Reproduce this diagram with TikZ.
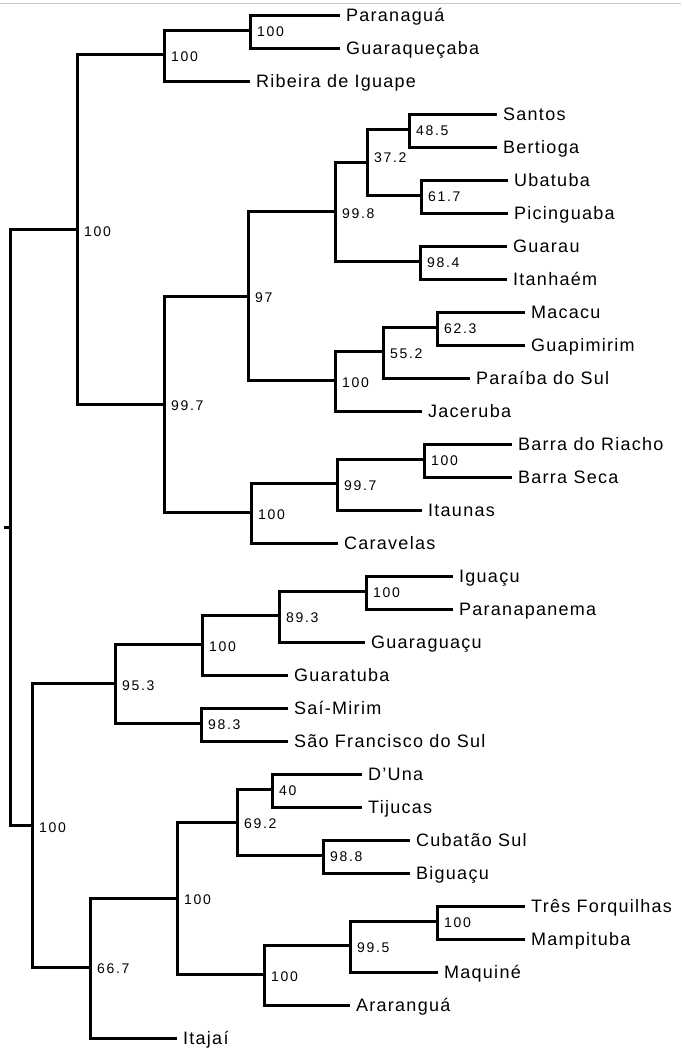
\documentclass[tikz,border=0pt]{standalone}
\usepackage{fontspec}
\setmainfont{Liberation Sans}
\newfontfamily\leaffont[LetterSpace=7]{Liberation Sans}
\newfontfamily\bsfont[LetterSpace=12]{Liberation Sans}
\definecolor{frameg}{RGB}{200,200,200}
\tikzset{
  branch/.style={line width=3pt, line join=miter, line cap=butt},
  leaf/.style={anchor=west, inner xsep=6pt, inner ysep=0pt, text height=12.9pt, text depth=0pt,
    font=\leaffont\fontsize{18}{20}\selectfont, yshift=-1.8pt},
  bs/.style={anchor=west, inner sep=0pt, text height=10pt, text depth=0pt,
    font=\bsfont\fontsize{14}{16}\selectfont, xshift=7pt, yshift=-1.5pt}
}
\begin{document}
\begin{tikzpicture}[x=1pt,y=-1pt]
\useasboundingbox (0,0) rectangle (681,1050);
\draw[frameg, line width=1.3pt] (0,3.3) -- (681,3.3);

% leaves
\node[leaf] (l0)  at (340,13.5)   {Paranaguá};
\node[leaf] (l1)  at (340,46.5)   {Guaraqueçaba};
\node[leaf] (l2)  at (250,79.5)   {Ribeira de Iguape};
\node[leaf] (l3)  at (497,112.5)  {Santos};
\node[leaf] (l4)  at (497,145.5)  {Bertioga};
\node[leaf] (l5)  at (508,178.5)  {Ubatuba};
\node[leaf] (l6)  at (508,211.5)  {Picinguaba};
\node[leaf] (l7)  at (507,244.5)  {Guarau};
\node[leaf] (l8)  at (507,277.5)  {Itanhaém};
\node[leaf] (l9)  at (525,310.5)  {Macacu};
\node[leaf] (l10) at (525,343.5)  {Guapimirim};
\node[leaf] (l11) at (470,376.5)  {Paraíba do Sul};
\node[leaf] (l12) at (422,409.5)  {Jaceruba};
\node[leaf] (l13) at (512,442.5)  {Barra do Riacho};
\node[leaf] (l14) at (512,475.5)  {Barra Seca};
\node[leaf] (l15) at (422,508.5)  {Itaunas};
\node[leaf] (l16) at (338,541.5)  {Caravelas};
\node[leaf] (l17) at (453,574.5)  {Iguaçu};
\node[leaf] (l18) at (453,607.5)  {Paranapanema};
\node[leaf] (l19) at (365,640.5)  {Guaraguaçu};
\node[leaf] (l20) at (288,673.5)  {Guaratuba};
\node[leaf] (l21) at (288,706.5)  {Saí-Mirim};
\node[leaf] (l22) at (288,739.5)  {São Francisco do Sul};
\node[leaf] (l23) at (362,772.5)  {D’Una};
\node[leaf] (l24) at (362,805.5)  {Tijucas};
\node[leaf] (l25) at (410,838.5)  {Cubatão Sul};
\node[leaf] (l26) at (410,871.5)  {Biguaçu};
\node[leaf] (l27) at (525,904.5)  {Três Forquilhas};
\node[leaf] (l28) at (525,937.5)  {Mampituba};
\node[leaf] (l29) at (438,970.5)  {Maquiné};
\node[leaf] (l30) at (350,1003.5) {Araranguá};
\node[leaf] (l31) at (177,1036.5) {Itajaí};

% internal nodes
\coordinate (C)  at (250,30);
\coordinate (B)  at (164,54.75);
\coordinate (H)  at (409,129);
\coordinate (I)  at (421,195);
\coordinate (G)  at (367,162);
\coordinate (J)  at (420,261);
\coordinate (F)  at (335,211.5);
\coordinate (M)  at (437,327);
\coordinate (L)  at (383,351.75);
\coordinate (K)  at (335,380.6);
\coordinate (E)  at (248,296);
\coordinate (P)  at (424,459);
\coordinate (O)  at (337,483.75);
\coordinate (N)  at (251,512.6);
\coordinate (D)  at (164,404.3);
\coordinate (A)  at (77,229.5);
\coordinate (U)  at (366,591);
\coordinate (T)  at (279,615.75);
\coordinate (S)  at (202,644.6);
\coordinate (V)  at (201,723);
\coordinate (R)  at (115,683.8);
\coordinate (Z)  at (272,789);
\coordinate (AA) at (323,855);
\coordinate (Y)  at (237,822);
\coordinate (AD) at (437,921);
\coordinate (AC) at (350,945.75);
\coordinate (AB) at (264,974.6);
\coordinate (X)  at (177,898.3);
\coordinate (W)  at (90,967.4);
\coordinate (Q)  at (32,825.6);
\coordinate (root) at (10,527.6);
\coordinate (rootstub) at (4,527.6);

% branches
\draw[branch] (l0.west) -| (C) |- (l1.west);
\draw[branch] (C) -| (B) |- (l2.west);
\draw[branch] (l3.west) -| (H) |- (l4.west);
\draw[branch] (l5.west) -| (I) |- (l6.west);
\draw[branch] (H) -| (G) |- (I);
\draw[branch] (l7.west) -| (J) |- (l8.west);
\draw[branch] (G) -| (F) |- (J);
\draw[branch] (l9.west) -| (M) |- (l10.west);
\draw[branch] (M) -| (L) |- (l11.west);
\draw[branch] (L) -| (K) |- (l12.west);
\draw[branch] (F) -| (E) |- (K);
\draw[branch] (l13.west) -| (P) |- (l14.west);
\draw[branch] (P) -| (O) |- (l15.west);
\draw[branch] (O) -| (N) |- (l16.west);
\draw[branch] (E) -| (D) |- (N);
\draw[branch] (B) -| (A) |- (D);
\draw[branch] (l17.west) -| (U) |- (l18.west);
\draw[branch] (U) -| (T) |- (l19.west);
\draw[branch] (T) -| (S) |- (l20.west);
\draw[branch] (l21.west) -| (V) |- (l22.west);
\draw[branch] (S) -| (R) |- (V);
\draw[branch] (l23.west) -| (Z) |- (l24.west);
\draw[branch] (l25.west) -| (AA) |- (l26.west);
\draw[branch] (Z) -| (Y) |- (AA);
\draw[branch] (l27.west) -| (AD) |- (l28.west);
\draw[branch] (AD) -| (AC) |- (l29.west);
\draw[branch] (AC) -| (AB) |- (l30.west);
\draw[branch] (Y) -| (X) |- (AB);
\draw[branch] (X) -| (W) |- (l31.west);
\draw[branch] (R) -| (Q) |- (W);
\draw[branch] (A) -| (root) |- (Q);
\draw[branch] (root) -- (rootstub);

% bootstrap labels
\node[bs] (bC)  at (C)  {100};
\node[bs] (bB)  at (B)  {100};
\node[bs] (bH)  at (H)  {48.5};
\node[bs] (bI)  at (I)  {61.7};
\node[bs, yshift=6pt] (bG) at (G) {37.2};
\node[bs] (bJ)  at (J)  {98.4};
\node[bs] (bF)  at (F)  {99.8};
\node[bs] (bM)  at (M)  {62.3};
\node[bs] (bL)  at (L)  {55.2};
\node[bs] (bK)  at (K)  {100};
\node[bs] (bE)  at (E)  {97};
\node[bs] (bP)  at (P)  {100};
\node[bs] (bO)  at (O)  {99.7};
\node[bs] (bN)  at (N)  {100};
\node[bs] (bD)  at (D)  {99.7};
\node[bs] (bA)  at (A)  {100};
\node[bs] (bU)  at (U)  {100};
\node[bs] (bT)  at (T)  {89.3};
\node[bs] (bS)  at (S)  {100};
\node[bs] (bV)  at (V)  {98.3};
\node[bs] (bR)  at (R)  {95.3};
\node[bs] (bZ)  at (Z)  {40};
\node[bs] (bAA) at (AA) {98.8};
\node[bs] (bY)  at (Y)  {69.2};
\node[bs] (bAD) at (AD) {100};
\node[bs] (bAC) at (AC) {99.5};
\node[bs] (bAB) at (AB) {100};
\node[bs] (bX)  at (X)  {100};
\node[bs] (bW)  at (W)  {66.7};
\node[bs] (bQ)  at (Q)  {100};
\end{tikzpicture}
\end{document}
